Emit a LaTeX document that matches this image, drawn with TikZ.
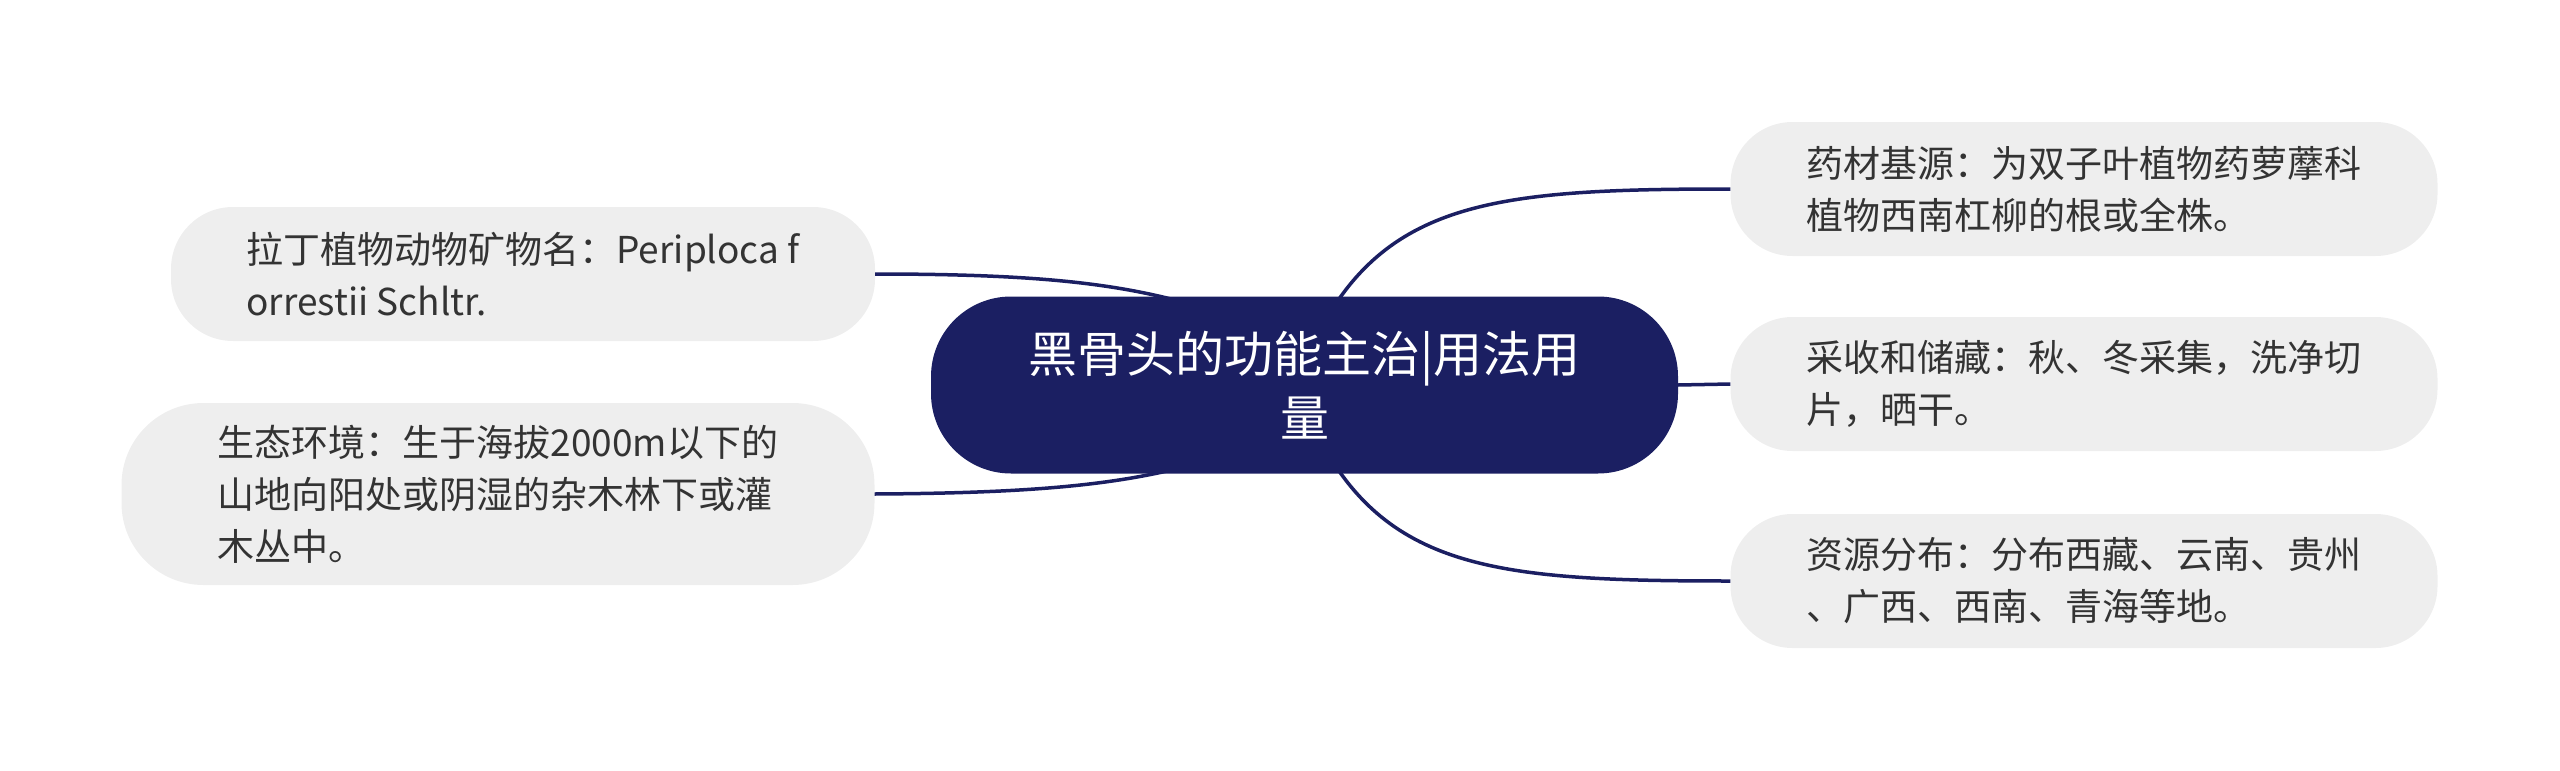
\documentclass[tikz,border=0pt]{standalone}
\usepackage{fontspec}
\setmainfont{Noto Sans CJK SC}
\definecolor{navy}{HTML}{1B1F62}
\definecolor{leafbg}{HTML}{EEEEEE}
\definecolor{txt}{HTML}{333333}
\tikzset{
  leaf/.style={fill=leafbg, draw=none, inner sep=0pt, align=left, text=txt,
    font=\fontsize{37}{52}\selectfont},
  hub/.style={fill=navy, draw=none, inner sep=0pt, align=center, text=white,
    font=\fontsize{49}{64}\selectfont, rounded corners=80pt},
  link/.style={draw=navy, line width=3.5pt}
}
\begin{document}
\begin{tikzpicture}[x=1pt,y=-1pt]
\useasboundingbox (0,0) rectangle (2560,771);
\coordinate (hl1) at (1210,310);
\coordinate (hl2) at (1210,460);
\coordinate (hr1) at (1320,330);
\coordinate (hr3) at (1320,440);
\node[leaf, minimum width=704pt, minimum height=134pt, rounded corners=62pt] (l1) at (523,274)
  {拉丁植物动物矿物名：Periploca f\\orrestii Schltr.};
\node[leaf, minimum width=753pt, minimum height=182pt, rounded corners=82pt] (l2) at (498,494)
  {生态环境：生于海拔2000m以下的\\山地向阳处或阴湿的杂木林下或灌\\木丛中。};
\node[leaf, minimum width=707pt, minimum height=134pt, rounded corners=62pt] (r1) at (2084,189)
  {药材基源：为双子叶植物药萝藦科\\植物西南杠柳的根或全株。};
\node[leaf, minimum width=707pt, minimum height=134pt, rounded corners=62pt] (r2) at (2084,384)
  {采收和储藏：秋、冬采集，洗净切\\片，晒干。};
\node[leaf, minimum width=707pt, minimum height=134pt, rounded corners=62pt] (r3) at (2084,581)
  {资源分布：分布西藏、云南、贵州\\、广西、西南、青海等地。};
\draw[link] (l1.east) .. controls (1050,274) and (1130,285) .. (hl1);
\draw[link] (l2.east) .. controls (1050,493) and (1130,483) .. (hl2);
\draw[link] (r1.west) .. controls (1500,189) and (1390,200) .. (hr1);
\draw[link] (r3.west) .. controls (1500,581) and (1390,570) .. (hr3);
\node[hub, minimum width=747pt, minimum height=177pt] (c) at (1304.5,385)
  {黑骨头的功能主治|用法用\\量};
\draw[link] (c.east) -- (r2.west);
\end{tikzpicture}
\end{document}
